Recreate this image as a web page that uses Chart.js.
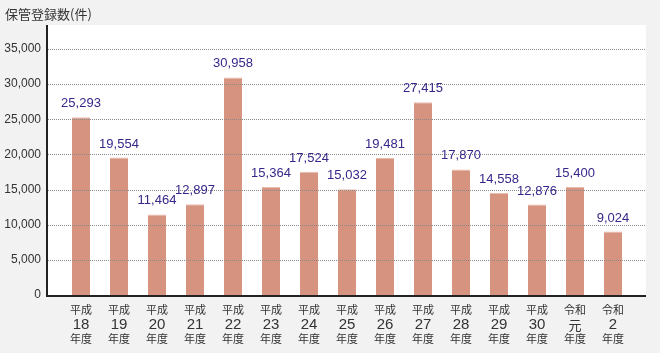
<!DOCTYPE html>
<html lang="ja">
<head>
<meta charset="utf-8">
<script src="https://cdn.jsdelivr.net/npm/chart.js@4"></script>
<style>
  html, body { margin: 0; padding: 0; background: #f2f2f2; }
  #wrap { position: relative; width: 660px; height: 353px; }
</style>
</head>
<body>
<div id="wrap"><canvas id="chart"></canvas></div>
<script>
// データ
const eraLabels = ['平成', '平成', '平成', '平成', '平成', '平成', '平成', '平成', '平成', '平成', '平成', '平成', '平成', '令和', '令和'];
const yearLabels = ['18', '19', '20', '21', '22', '23', '24', '25', '26', '27', '28', '29', '30', '元', '2'];
const counts = [25293, 19554, 11464, 12897, 30958, 15364, 17524, 15032, 19481, 27415, 17870, 14558, 12876, 15400, 9024];
const yTicks = [0, 5000, 10000, 15000, 20000, 25000, 30000, 35000];
const yTitle = '保管登録数(件)';

const jpFont = '"Noto Sans CJK JP", "Noto Sans", sans-serif';
const numFont = '"Liberation Sans", Arial, sans-serif';

// 白い背景・点線・軸線・ラベルを描く
const framePlugin = {
    id: 'frame',
    beforeDraw(chart) {
        const ctx = chart.ctx;
        const area = chart.chartArea;
        ctx.save();
        ctx.fillStyle = '#ffffff';
        ctx.fillRect(47, 25, 646 - 47, area.bottom + 1 - 25);
        // タイトル
        ctx.fillStyle = '#333333';
        ctx.font = '13px ' + jpFont;
        ctx.textBaseline = 'middle';
        ctx.textAlign = 'left';
        ctx.fillText(yTitle, 5, 14);
        ctx.restore();
    },
    afterDatasetsDraw(chart) {
        const ctx = chart.ctx;
        const y = chart.scales.y;
        const x = chart.scales.x;
        const area = chart.chartArea;
        ctx.save();

        // 点線のグリッド
        ctx.strokeStyle = '#8a8a8a';
        ctx.lineWidth = 1;
        ctx.setLineDash([1, 1]);
        yTicks.forEach(v => {
            if (v === 0) return;
            const py = Math.round(y.getPixelForValue(v)) + 0.5;
            ctx.beginPath();
            ctx.moveTo(48, py);
            ctx.lineTo(646, py);
            ctx.stroke();
        });
        ctx.setLineDash([]);

        // 軸線
        ctx.strokeStyle = '#222222';
        ctx.lineWidth = 2;
        ctx.beginPath();
        ctx.moveTo(47, 25);
        ctx.lineTo(47, area.bottom + 2);
        ctx.stroke();
        ctx.beginPath();
        ctx.moveTo(46, area.bottom + 1);
        ctx.lineTo(646, area.bottom + 1);
        ctx.stroke();

        // 棒の上の数値
        const meta = chart.getDatasetMeta(0);
        ctx.fillStyle = '#35288a';
        ctx.font = '13px ' + numFont;
        ctx.textAlign = 'center';
        ctx.textBaseline = 'alphabetic';
        meta.data.forEach((bar, i) => {
            ctx.fillText(counts[i].toLocaleString('en-US'), bar.x, bar.y - 10);
        });

        // X軸ラベル（3行）
        ctx.fillStyle = '#333333';
        ctx.textBaseline = 'middle';
        yearLabels.forEach((yr, i) => {
            const px = x.getPixelForValue(i);
            ctx.font = '11px ' + jpFont;
            ctx.fillText(eraLabels[i], px, 310);
            ctx.font = (yr === '元' ? '13px ' + jpFont : '15px ' + numFont);
            ctx.fillText(yr, px, 325);
            ctx.font = '11px ' + jpFont;
            ctx.fillText('年度', px, 339);
        });
        ctx.restore();
    }
};

new Chart(document.getElementById('chart'), {
    type: 'bar',
    data: {
        labels: yearLabels,
        datasets: [{
            data: counts,
            backgroundColor: '#d6937f',
            borderColor: '#e9bcae',
            borderWidth: { top: 1, left: 0, right: 0, bottom: 0 },
            borderSkipped: 'bottom',
            barPercentage: 18 / 38,
            categoryPercentage: 1
        }]
    },
    options: {
        responsive: true,
        maintainAspectRatio: false,
        animation: false,
        layout: { padding: { top: 49, right: 28, left: 0, bottom: 0 } },
        plugins: { legend: { display: false }, tooltip: { enabled: false } },
        scales: {
            x: {
                grid: { display: false },
                border: { display: false },
                ticks: { display: false },
                afterFit: s => { s.height = 58; }
            },
            y: {
                min: 0,
                max: 35000,
                grid: { display: false, drawTicks: false },
                border: { display: false },
                afterBuildTicks: s => { s.ticks = yTicks.map(v => ({ value: v })); },
                afterFit: s => { s.width = 62; },
                ticks: {
                    padding: 21,
                    color: '#333333',
                    font: { size: 12, family: numFont },
                    callback: v => v.toLocaleString('en-US')
                }
            }
        }
    },
    plugins: [framePlugin]
});
</script>
</body>
</html>
